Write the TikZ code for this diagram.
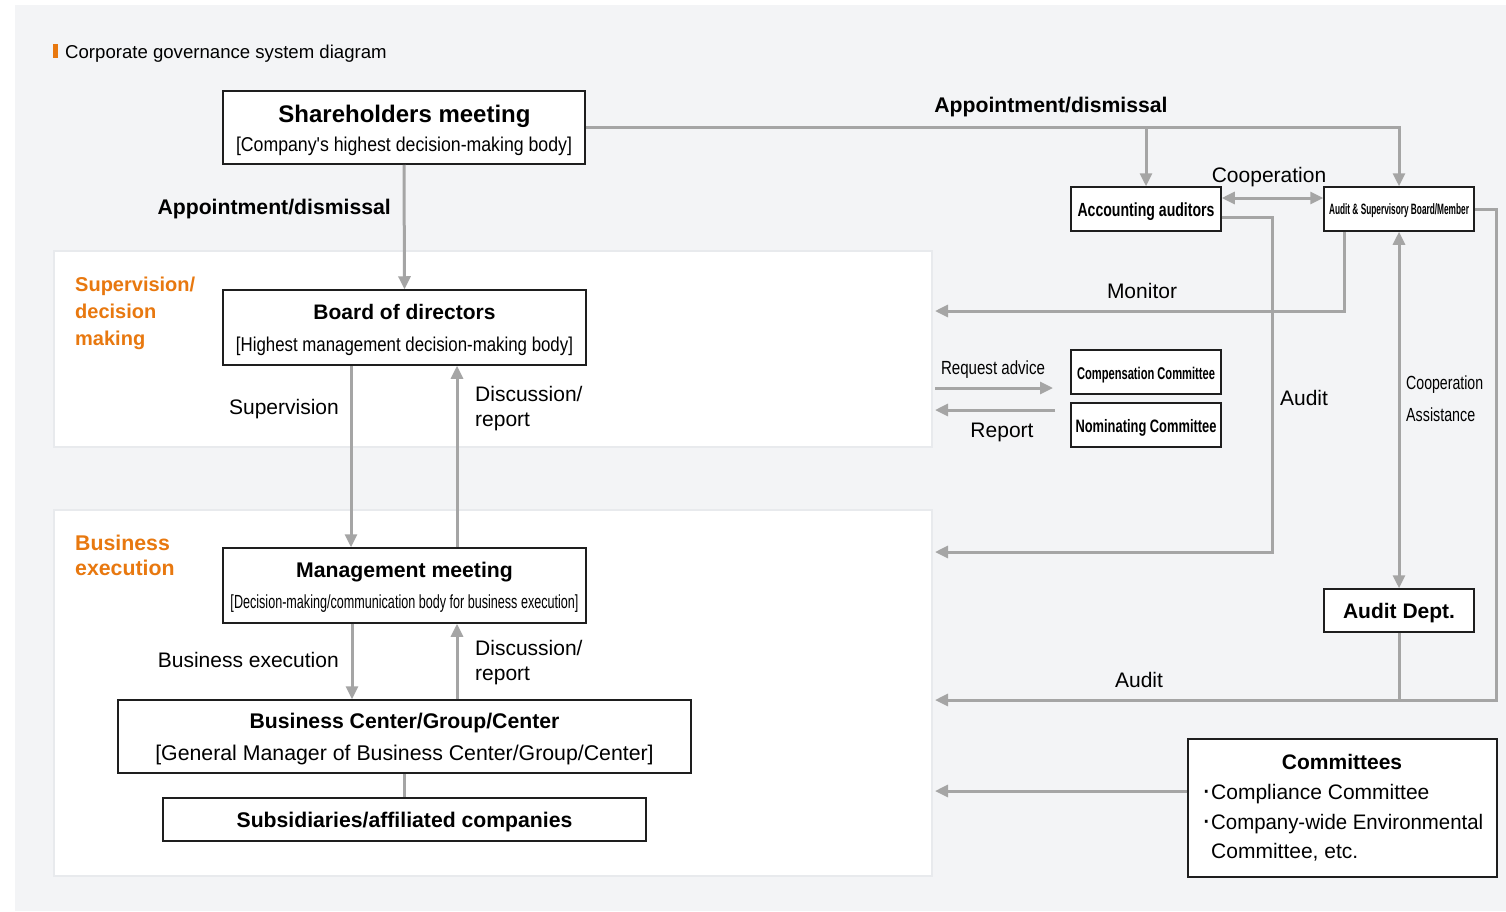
\documentclass[tikz,border=0pt]{standalone}
\usepackage{fontspec}
\setmainfont{Liberation Sans}[Ligatures=TeXOff]
\usepackage{graphicx}
\usetikzlibrary{arrows.meta}
\definecolor{bg}{HTML}{F3F4F6}
\definecolor{pnlb}{HTML}{E8EAED}
\definecolor{ln}{HTML}{A5A5A5}
\definecolor{org}{HTML}{E8780F}
\definecolor{bx}{HTML}{1E1E1E}
\newcommand\fs[1]{\fontsize{#1}{#1}\selectfont}
\newcommand\cw[2]{\resizebox{#1}{\height}{#2}}
\newcommand\bul{\makebox[9.5pt][c]{\scalebox{1.35}{·}}}
\tikzset{
 box/.style={draw=bx, line width=1.5pt, fill=white, inner sep=0pt},
 conn/.style={draw=ln, line width=3pt},
 arr/.style={conn, -{Triangle[length=13pt,width=12pt]}},
 darr/.style={conn, {Triangle[length=13pt,width=12pt]}-{Triangle[length=13pt,width=12pt]}},
 t/.style={inner sep=0pt, anchor=base},
 tw/.style={inner sep=0pt, anchor=base west},
 te/.style={inner sep=0pt, anchor=base east},
 ot/.style={inner sep=0pt, anchor=base west, text=org, font=\fs{20}\bfseries},
}
\begin{document}
\begin{tikzpicture}[x=1pt,y=-1pt]
\useasboundingbox (0,0) rectangle (1506,911);
\fill[white] (0,0) rectangle (1506,911);
\fill[bg] (15,5) rectangle (1506,911);
\filldraw[fill=white, draw=pnlb, line width=1.5pt] (54,251) rectangle (932,447);
\filldraw[fill=white, draw=pnlb, line width=1.5pt] (54,510) rectangle (932,876);
% title
\fill[org] (53,44) rectangle (58,58);
\node[tw, font=\fs{18.6}] (title) at (65,58.5) {Corporate governance system diagram};
% section labels
\node[ot] (sv1) at (75,291) {Supervision/};
\node[ot] (sv2) at (75,318) {decision};
\node[ot] (sv3) at (75,345) {making};
\node[ot, font=\fs{21.3}\bfseries] (be1) at (75,550) {Business};
\node[ot, font=\fs{21.3}\bfseries] (be2) at (75,575.5) {execution};
% boxes
\node[box, minimum width=362pt, minimum height=73pt] (sh) at (404,127.5) {};
\node[box, minimum width=363pt, minimum height=75pt] (bd) at (404.5,327.5) {};
\node[box, minimum width=363pt, minimum height=75pt] (mm) at (404.5,585.5) {};
\node[box, minimum width=573pt, minimum height=73pt] (bc) at (404.5,736.5) {};
\node[box, minimum width=483pt, minimum height=43pt] (sub) at (404.5,819.5) {};
\node[box, minimum width=150pt, minimum height=44pt] (acc) at (1146,209) {};
\node[box, minimum width=150pt, minimum height=44pt] (asb) at (1399,209) {};
\node[box, minimum width=150pt, minimum height=44pt] (comp) at (1146,372) {};
\node[box, minimum width=150pt, minimum height=44pt] (nom) at (1146,425) {};
\node[box, minimum width=150pt, minimum height=43pt] (ad) at (1399,610.5) {};
\node[box, minimum width=309pt, minimum height=138pt] (cm) at (1342.5,808) {};
% box texts
\node[t, font=\fs{24}\bfseries] (shT) at (404.5,122.5) {Shareholders meeting};
\node[t, font=\fs{20}] (shS) at (404,151) {\cw{336pt}{[Company's highest decision-making body]}};
\node[t, font=\fs{21}\bfseries] (bdT) at (404.5,319.6) {Board of directors};
\node[t, font=\fs{20}] (bdS) at (404.5,351.2) {\cw{337pt}{[Highest management decision-making body]}};
\node[t, font=\fs{21.2}\bfseries] (mmT) at (404.5,577.6) {Management meeting};
\node[t, font=\fs{19}] (mmS) at (404.5,608.8) {\cw{348pt}{[Decision-making/communication body for business execution]}};
\node[t, font=\fs{21.2}\bfseries] (bcT) at (404.5,728.6) {Business Center/Group/Center};
\node[t, font=\fs{21.3}] (bcS) at (404.5,760.6) {[General Manager of Business Center/Group/Center]};
\node[t, font=\fs{21.2}\bfseries] (subT) at (404.5,827.6) {Subsidiaries/affiliated companies};
\node[t, font=\fs{19}\bfseries] (accT) at (1146,216.8) {\cw{137pt}{Accounting auditors}};
\node[t, font=\fs{15}\bfseries] (asbT) at (1399,214.4) {\cw{140pt}{Audit \& Supervisory Board/Member}};
\node[t, font=\fs{17}\bfseries] (compT) at (1146,379) {\cw{138pt}{Compensation Committee}};
\node[t, font=\fs{18}\bfseries] (nomT) at (1146,432.5) {\cw{141pt}{Nominating Committee}};
\node[t, font=\fs{21}\bfseries] (adT) at (1399,618.6) {Audit Dept.};
\node[t, font=\fs{21}\bfseries] (cmT) at (1342,769.6) {Committees};
\node[tw, font=\fs{21}] (cm1) at (1201.5,799.6) {\bul Compliance Committee};
\node[tw, font=\fs{21}] (cm2) at (1201.5,829.6) {\bul\cw{272pt}{Company-wide Environmental}};
\node[tw, font=\fs{21}] (cm3) at (1211,858.6) {Committee, etc.};
% free ends
\coordinate (monE) at (935,311);
\coordinate (aud1E) at (935,552);
\coordinate (aud2E) at (935,700);
\coordinate (reqW) at (935,388);
\coordinate (reqE) at (1053,388);
\coordinate (repE) at (1055,410);
\coordinate (repW) at (935,410);
\coordinate (comE) at (935,791);
% connectors
\draw[arr] (sh.south) -- (bd.north);
\draw[arr] (sh.east) -| (asb.north);
\draw[arr] (acc.north |- sh.east) -- (acc.north);
\draw[darr] ([yshift=11pt]acc.east) -- ([yshift=11pt]asb.west);
\draw[arr] ([xshift=-55pt]asb.south) |- (monE);
\draw[arr] ([yshift=-8pt]acc.east) -- ++(51,0) |- (aud1E);
\draw[darr] (asb.south) -- (ad.north);
\draw[arr] (asb.east) -- ++(22,0) |- (aud2E);
\draw[conn] (ad.south) -- (ad.south |- aud2E);
\draw[arr] (reqW) -- (reqE);
\draw[arr] (repE) -- (repW);
\draw[arr] ([yshift=17pt]cm.west) -- (comE);
\draw[arr] ([xshift=-53.5pt]bd.south) -- ([xshift=-53.5pt]mm.north);
\draw[arr] ([xshift=52.5pt]mm.north) -- ([xshift=52.5pt]bd.south);
\draw[arr] ([xshift=-52.5pt]mm.south) -- ([xshift=-52.5pt]bc.north);
\draw[arr] ([xshift=52.5pt]bc.north) -- ([xshift=52.5pt]mm.south);
\draw[conn] (bc.south) -- (sub.north);
% connector labels
\node[te, font=\fs{21.2}\bfseries] (lAp1) at (391,214.6) {Appointment/dismissal};
\node[t, font=\fs{21.2}\bfseries] (lAp2) at (1051,112.6) {Appointment/dismissal};
\node[t, font=\fs{21}] (lCoop) at (1269,182.6) {Cooperation};
\node[t, font=\fs{21}] (lMon) at (1142,298.6) {Monitor};
\node[t, font=\fs{21}] (lAud1) at (1304,405.6) {Audit};
\node[tw, font=\fs{19}] (lCo2) at (1406,389) {\cw{77pt}{Cooperation}};
\node[tw, font=\fs{19}] (lAs2) at (1406,421) {\cw{69pt}{Assistance}};
\node[t, font=\fs{21}] (lAud2) at (1139,687.6) {Audit};
\node[t, font=\fs{19}] (lReq) at (993,374.8) {\cw{104pt}{Request advice}};
\node[t, font=\fs{21}] (lRep) at (1002,437.6) {Report};
\node[te, font=\fs{21}] (lSup) at (339,414.6) {Supervision};
\node[tw, font=\fs{21}] (lDr1) at (475,401.6) {Discussion/};
\node[tw, font=\fs{21}] (lDr2) at (475,426) {report};
\node[te, font=\fs{21}] (lBe) at (339,667.6) {Business execution};
\node[tw, font=\fs{21}] (lDr3) at (475,655.6) {Discussion/};
\node[tw, font=\fs{21}] (lDr4) at (475,680) {report};
\end{tikzpicture}
\end{document}
